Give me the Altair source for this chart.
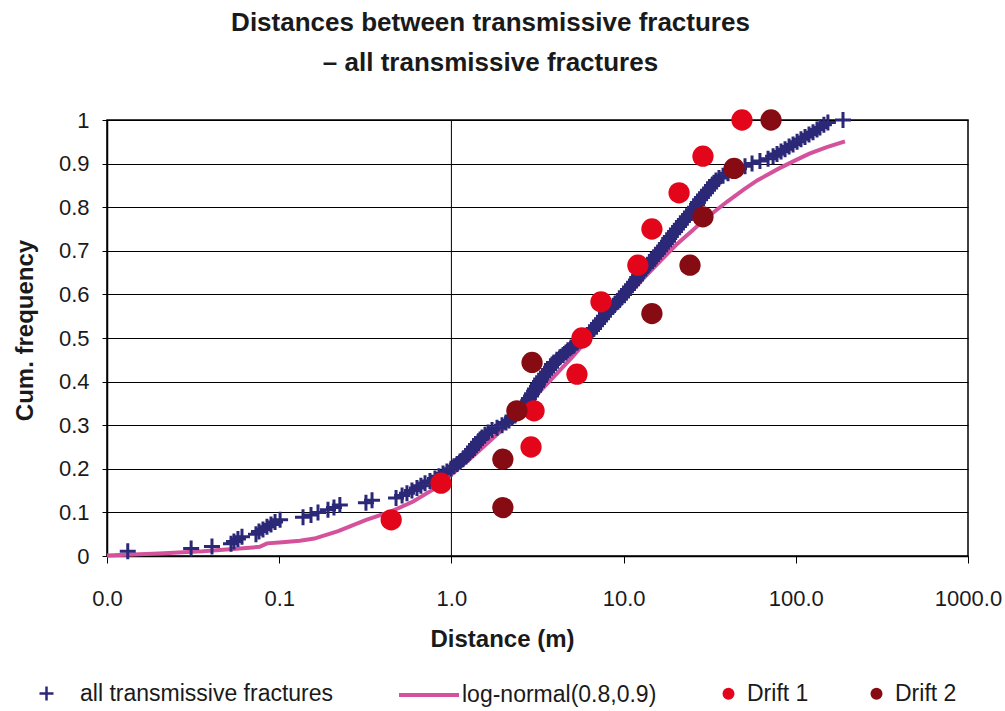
import altair as alt
import pandas as pd

# Cumulative frequency of distances between all transmissive fractures
frac_dist = [
    0.0132, 0.0308, 0.0407, 0.0525, 0.0546, 0.0576, 0.0608, 0.0733, 0.0763, 0.0805,
    0.0849, 0.0896, 0.0946, 0.1012, 0.1375, 0.153, 0.168, 0.192, 0.208, 0.225,
    0.319, 0.346, 0.477, 0.517, 0.552, 0.590, 0.631, 0.665, 0.703, 0.751,
    0.803, 0.847, 0.894, 0.942, 0.995, 1.035, 1.079, 1.122, 1.167, 1.216,
    1.248, 1.282, 1.318, 1.352, 1.389, 1.427, 1.466, 1.506, 1.567, 1.633,
    1.722, 1.841, 1.968, 2.075, 2.159, 2.249, 2.339, 2.437, 2.50, 2.57,
    2.64, 2.71, 2.79, 2.82, 2.90, 2.94, 3.02, 3.06, 3.14, 3.18,
    3.27, 3.32, 3.41, 3.50, 3.59, 3.69, 3.79, 3.84, 3.94, 4.10,
    4.27, 4.45, 4.63, 4.75, 4.95, 5.15, 5.36, 5.58, 5.81, 6.12,
    6.38, 6.55, 6.73, 6.91, 7.10, 7.29, 7.49, 7.69, 7.90, 8.12,
    8.34, 8.68, 8.91, 9.27, 9.52, 9.79, 10.05, 10.3, 10.6, 10.9,
    11.2, 11.5, 11.8, 12.0, 12.3, 12.6, 13.0, 13.5, 13.9, 14.2,
    14.6, 15.0, 15.4, 15.8, 16.3, 16.7, 17.2, 17.6, 18.1, 18.4,
    18.8, 19.4, 19.9, 20.4, 21.0, 21.5, 22.1, 22.7, 23.3, 24.0,
    24.6, 25.3, 26.0, 26.7, 27.0, 27.8, 28.5, 29.3, 30.1, 30.9,
    31.8, 32.6, 33.5, 34.4, 35.8, 37.8, 40.4, 43.2, 46.8, 50.7,
    55.7, 61.9, 69.0, 73.8, 77.8, 82.1, 86.6, 91.4, 96.4, 101.7,
    107.2, 113.1, 119.3, 125.9, 132.8, 138.1, 145.6, 153.6, 188.0,
]
frac_cum = [
    0.011, 0.017, 0.022, 0.028, 0.033, 0.039, 0.044, 0.050, 0.056, 0.061,
    0.067, 0.072, 0.078, 0.083, 0.089, 0.094, 0.100, 0.106, 0.111, 0.117,
    0.122, 0.128, 0.133, 0.139, 0.144, 0.150, 0.156, 0.161, 0.167, 0.172,
    0.178, 0.183, 0.189, 0.194, 0.200, 0.206, 0.211, 0.217, 0.222, 0.228,
    0.233, 0.239, 0.244, 0.250, 0.256, 0.261, 0.267, 0.272, 0.278, 0.283,
    0.289, 0.294, 0.300, 0.306, 0.311, 0.317, 0.322, 0.328, 0.333, 0.339,
    0.344, 0.350, 0.356, 0.361, 0.367, 0.372, 0.378, 0.383, 0.389, 0.394,
    0.400, 0.406, 0.411, 0.417, 0.422, 0.428, 0.433, 0.439, 0.444, 0.450,
    0.456, 0.461, 0.467, 0.472, 0.478, 0.483, 0.489, 0.494, 0.500, 0.506,
    0.511, 0.517, 0.522, 0.528, 0.533, 0.539, 0.544, 0.550, 0.556, 0.561,
    0.567, 0.572, 0.578, 0.583, 0.589, 0.594, 0.600, 0.606, 0.611, 0.617,
    0.622, 0.628, 0.633, 0.639, 0.644, 0.650, 0.656, 0.661, 0.667, 0.672,
    0.678, 0.683, 0.689, 0.694, 0.700, 0.706, 0.711, 0.717, 0.722, 0.728,
    0.733, 0.739, 0.744, 0.750, 0.756, 0.761, 0.767, 0.772, 0.778, 0.783,
    0.789, 0.794, 0.800, 0.806, 0.811, 0.817, 0.822, 0.828, 0.833, 0.839,
    0.844, 0.850, 0.856, 0.861, 0.867, 0.872, 0.878, 0.883, 0.889, 0.894,
    0.900, 0.906, 0.911, 0.917, 0.922, 0.928, 0.933, 0.939, 0.944, 0.950,
    0.956, 0.961, 0.967, 0.972, 0.978, 0.983, 0.989, 0.994, 1.000,
]

# Fitted log-normal curve
lognorm_dist = [0.010, 0.020, 0.036, 0.054, 0.077, 0.085, 0.100, 0.132, 0.160, 0.220,
                0.320, 0.440, 0.60, 0.78, 1.0, 1.3, 1.6, 2.0, 2.5, 3.0,
                4.0, 5.0, 6.3, 8.0, 10.0, 13.0, 16.0, 20.0, 25.0, 30.0,
                40.0, 50.0, 60.0, 80.0, 100.0, 120.0, 150.0, 193.0]
lognorm_cum = [0.001, 0.006, 0.011, 0.016, 0.021, 0.029, 0.031, 0.035, 0.040, 0.057,
               0.083, 0.101, 0.125, 0.152, 0.187, 0.225, 0.257, 0.292, 0.330, 0.362,
               0.414, 0.455, 0.500, 0.546, 0.588, 0.636, 0.673, 0.712, 0.746, 0.774,
               0.813, 0.841, 0.862, 0.889, 0.908, 0.923, 0.937, 0.951]

# Drift-wise distributions
drift1_dist = [0.447, 0.87, 2.90, 3.02, 5.36, 5.73, 7.39, 12.1, 14.6, 21.0, 28.9, 48.7]
drift1_cum = [0.083, 0.167, 0.250, 0.333, 0.417, 0.500, 0.583, 0.667, 0.750, 0.833, 0.917, 1.000]
drift2_dist = [1.99, 1.99, 2.40, 2.94, 14.6, 24.3, 28.9, 43.8, 71.8]
drift2_cum = [0.111, 0.222, 0.333, 0.444, 0.556, 0.667, 0.778, 0.889, 1.000]

x_ticks = [0.01, 0.1, 1, 10, 100, 1000]
y_ticks = [0, 0.1, 0.2, 0.3, 0.4, 0.5, 0.6, 0.7, 0.8, 0.9, 1]

FONT = "Liberation Sans"
NAVY = "#2C2878"
PINK = "#D4529C"
RED = "#E3061B"
DARKRED = "#870B12"
INK = "#1a1a1a"
CROSS = "M-1,0L1,0M0,-1L0,1"

frac_df = pd.DataFrame({"distance": frac_dist, "cum": frac_cum,
                        "series": "all transmissive fractures"})
line_df = pd.DataFrame({"distance": lognorm_dist, "cum": lognorm_cum,
                        "series": "log-normal(0.8,0.9)"})
drift_df = pd.concat([
    pd.DataFrame({"distance": drift1_dist, "cum": drift1_cum, "series": "Drift 1"}),
    pd.DataFrame({"distance": drift2_dist, "cum": drift2_cum, "series": "Drift 2"}),
], ignore_index=True)
ref_df = pd.DataFrame({"distance": [1.0]})

x_enc = alt.X(
    "distance:Q",
    scale=alt.Scale(type="log", domain=[0.01, 1000]),
    axis=alt.Axis(values=x_ticks, format=".1f", title="Distance (m)", grid=False,
                  tickSize=7, labelPadding=25, labelFlush=False, labelOverlap=False,
                  titleX=395, titlePadding=18),
)
y_enc = alt.Y(
    "cum:Q",
    scale=alt.Scale(domain=[0, 1]),
    axis=alt.Axis(values=y_ticks, format="~g", title="Cum. frequency", grid=True,
                  tickSize=5, labelPadding=13, labelFlush=False,
                  titleX=-70, titleY=210),
)

legend_common = dict(orient="none", title=None, padding=0, labelFont=FONT,
                     labelFontSize=23, labelColor=INK, labelLimit=500)

ref_line = alt.Chart(ref_df).mark_rule(color="black", strokeWidth=1).encode(x=x_enc)

lognorm = alt.Chart(line_df).mark_line(strokeWidth=4).encode(
    x=x_enc, y=y_enc,
    stroke=alt.Stroke("series:N",
                      scale=alt.Scale(domain=["log-normal(0.8,0.9)"], range=[PINK]),
                      legend=alt.Legend(legendX=290, legendY=543, symbolType="stroke",
                                        symbolSize=3600, symbolStrokeWidth=4,
                                        labelOffset=1, **legend_common)),
)

crosses = alt.Chart(frac_df).mark_point(shape=CROSS, size=256, strokeWidth=3,
                                        filled=False, opacity=1).encode(
    x=x_enc, y=y_enc,
    color=alt.Color("series:N",
                    scale=alt.Scale(domain=["all transmissive fractures"], range=[NAVY]),
                    legend=alt.Legend(legendX=-72, legendY=562, symbolType=CROSS,
                                      symbolSize=196, symbolStrokeWidth=2.5,
                                      labelOffset=22, **legend_common)),
)

drifts = alt.Chart(drift_df).mark_circle(size=452, opacity=1).encode(
    x=x_enc, y=y_enc,
    fill=alt.Fill("series:N",
                  scale=alt.Scale(domain=["Drift 1", "Drift 2"], range=[RED, DARKRED]),
                  legend=alt.Legend(legendX=610, legendY=562, direction="horizontal",
                                    symbolType="circle", symbolSize=144,
                                    symbolOpacity=1, labelOffset=7, columnPadding=56,
                                    **legend_common)),
)

chart = (
    alt.layer(ref_line, lognorm, crosses, drifts)
    .resolve_legend(color="independent", stroke="independent", fill="independent")
    .properties(
        width=861,
        height=436,
        autosize=alt.AutoSizeParams(type="none"),
        padding={"left": 107, "top": 120, "right": 37, "bottom": 155},
        background="white",
        title=alt.Title(
            ["Distances between transmissive fractures", "– all transmissive fractures"],
            font=FONT, fontSize=26, fontWeight="bold", color=INK, anchor="middle",
            dx=-47, offset=30, lineHeight=40,
        ),
    )
    .configure_view(stroke="black", strokeWidth=1.5)
    .configure_axis(
        labelFont=FONT, labelFontSize=22, labelColor=INK,
        titleFont=FONT, titleFontSize=24, titleFontWeight="bold", titleColor=INK,
        domainColor="black", domainWidth=1.5, tickColor="black", tickWidth=1,
        gridColor="black", gridWidth=1, gridOpacity=1,
    )
)

chart.save("out.html", embed_options={"renderer": "svg", "actions": False})
